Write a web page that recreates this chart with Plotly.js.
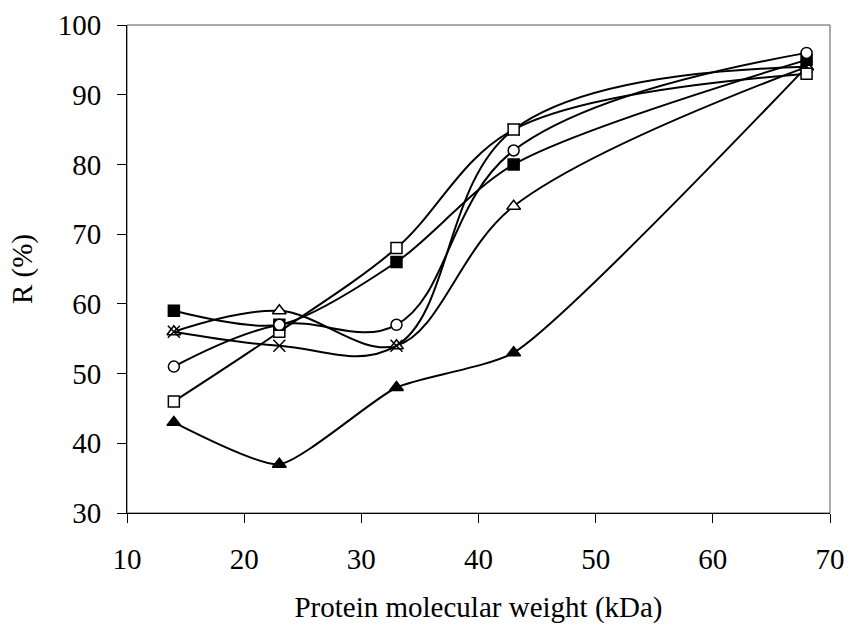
<!DOCTYPE html>
<html>
<head>
<meta charset="utf-8">
<script src="https://cdn.plot.ly/plotly-3.0.1.min.js"></script>
<style>html,body{margin:0;padding:0;background:#fff;}#chart{width:849px;height:628px;}</style>
</head>
<body>
<div id="chart"></div>
<script>
// Protein molecular weight (kDa)
const mw = [14, 23, 33, 43, 68];
// R (%) series
const filledSquare = [59, 57, 66, 80, 95];
const openSquare = [46, 56, 68, 85, 93];
const openCircle = [51, 57, 57, 82, 96];
const openTriangle = [56, 59, 54, 74, 94];
const crossSeries = [56, 54, 54, 85, 94];
const filledTriangle = [43, 37, 48, 53, 94];

const xTicks = [10, 20, 30, 40, 50, 60, 70];
const yTicks = [30, 40, 50, 60, 70, 80, 90, 100];

function tr(y, sym, size, filled, smooth) {
  return {
    x: mw, y: y, type: 'scatter', mode: 'lines+markers',
    line: {color: '#000', width: 2, shape: 'spline', smoothing: smooth},
    marker: {symbol: sym, size: size, color: filled ? '#000' : '#fff',
             line: {color: '#000', width: 1.5}},
    showlegend: false, hoverinfo: 'skip'
  };
}

const data = [
  tr(filledTriangle, 'triangle-up', 12, true, 0.55),
  tr(openTriangle, 'triangle-up', 12, false, 1.0),
  tr(crossSeries, 'x-thin-open', 12, false, 1.1),
  tr(openSquare, 'square', 11, false, 1),
  tr(filledSquare, 'square', 11, true, 0.8),
  tr(openCircle, 'circle', 11, false, 1.1)
];
data[2].marker.color = '#000';

const font = {family: '"Liberation Serif", "Times New Roman", serif', size: 29, color: '#000'};

const layout = {
  width: 849, height: 628,
  margin: {l: 127, r: 19, t: 25, b: 115},
  paper_bgcolor: '#fff', plot_bgcolor: '#fff',
  font: font,
  showlegend: false,
  xaxis: {
    range: [10, 70], tickvals: xTicks, ticktext: xTicks.map(String),
    showgrid: false, zeroline: false, showline: true, linecolor: '#000', linewidth: 1,
    ticks: 'outside', ticklen: 9, tickcolor: '#000', tickwidth: 1,
    tickfont: font, automargin: false, ticklabelstandoff: 11,
    title: {text: 'Protein molecular weight (kDa)', font: font, standoff: 22}
  },
  yaxis: {
    range: [30, 100], tickvals: yTicks, ticktext: yTicks.map(String),
    showgrid: false, zeroline: false, showline: true, linecolor: '#000', linewidth: 1,
    ticks: 'outside', ticklen: 9, tickcolor: '#000', tickwidth: 1,
    tickfont: font, automargin: false, ticklabelstandoff: 10,
    title: {text: 'R (%)', font: font, standoff: 16}
  },
  shapes: [{type: 'rect', xref: 'paper', yref: 'paper', x0: 0, x1: 1, y0: 0, y1: 1,
            line: {color: '#555', width: 1}, layer: 'below'}]
};

Plotly.newPlot('chart', data, layout, {staticPlot: true, displayModeBar: false});
</script>
</body>
</html>
